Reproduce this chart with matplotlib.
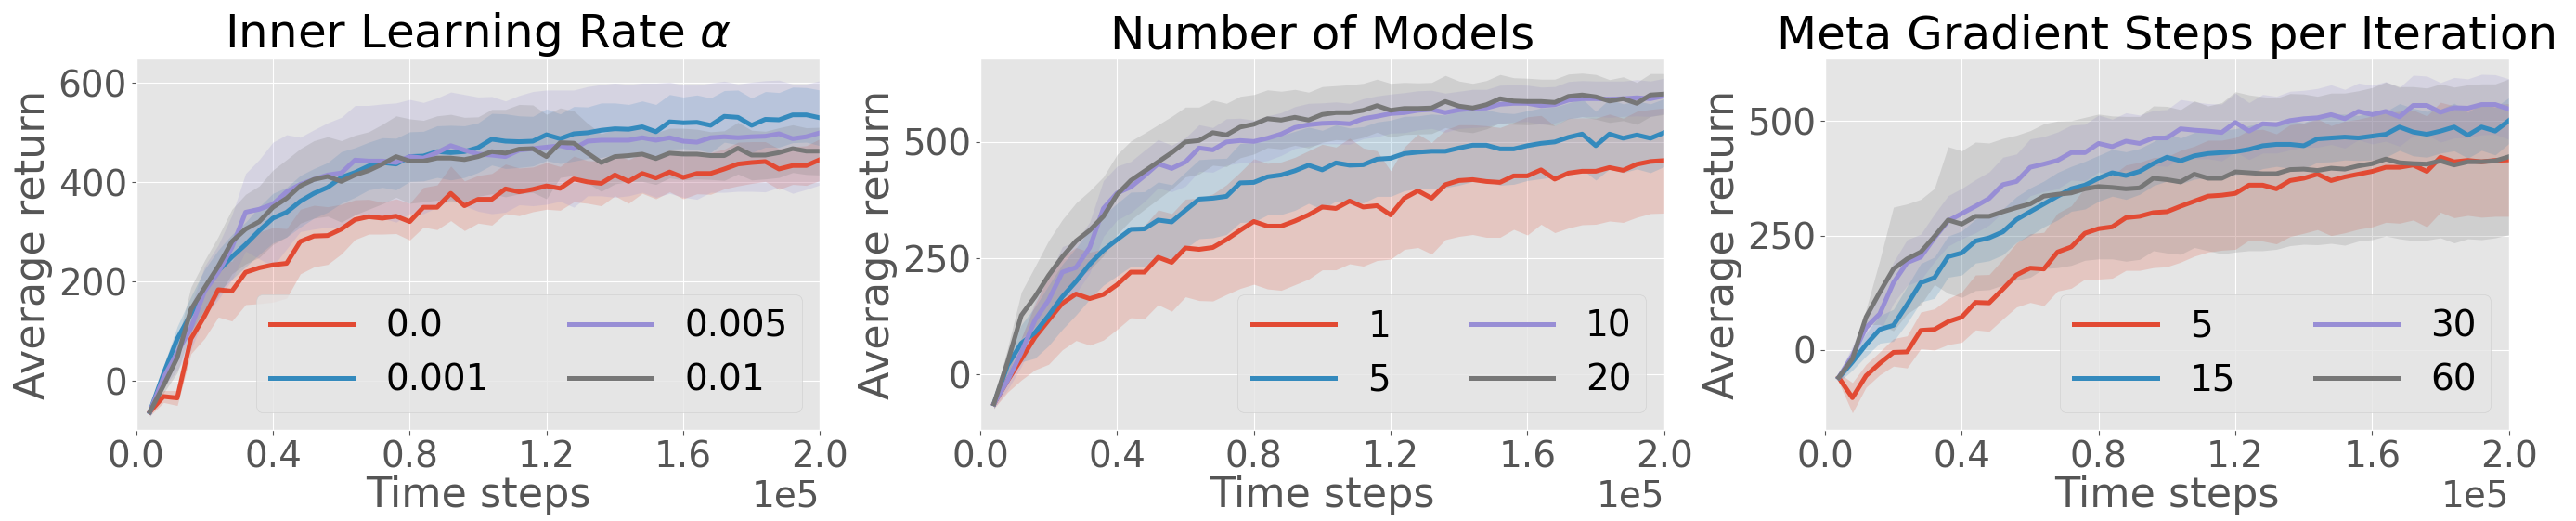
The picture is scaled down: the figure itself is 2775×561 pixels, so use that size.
import numpy as np
import matplotlib
matplotlib.use("Agg")
import matplotlib.pyplot as plt

# evaluation points (every 4000 steps)
steps = np.arange(4000, 200001, 4000)

# ---- panel 1: inner learning rate ----
lr_labels = ["0.0", "0.001", "0.005", "0.01"]
lr_mean_00 = [-62, -31, -34, 85, 131, 184, 181, 219, 228, 234, 237, 281, 292, 293, 306, 325, 331, 328, 332, 321,
              350, 350, 378, 353, 366, 366, 387, 381, 386, 393, 388, 407, 401, 398, 415, 402, 418, 409, 421, 410,
              418, 418, 427, 437, 440, 442, 427, 434, 434, 446]
lr_mean_0001 = [-62, 15, 85, 135, 185, 222, 250, 275, 303, 328, 340, 362, 378, 390, 410, 420, 433, 440, 437, 452,
                453, 462, 460, 462, 470, 487, 483, 482, 483, 496, 488, 498, 500, 505, 508, 507, 512, 502, 522, 520,
                521, 515, 533, 531, 515, 527, 526, 536, 536, 530]
lr_mean_0005 = [-62, 7, 57, 107, 181, 219, 269, 340, 346, 356, 381, 396, 406, 415, 419, 445, 443, 443, 440, 452,
                449, 460, 474, 465, 457, 455, 452, 465, 468, 471, 474, 468, 483, 485, 485, 485, 490, 485, 490, 483,
                481, 490, 492, 490, 492, 493, 498, 488, 492, 500]
lr_mean_001 = [-62, -9, 47, 144, 188, 231, 281, 306, 321, 350, 368, 393, 406, 412, 402, 415, 424, 437, 452, 443,
               443, 449, 449, 446, 452, 462, 459, 467, 468, 452, 480, 479, 459, 440, 452, 454, 457, 448, 459, 457,
               457, 454, 454, 469, 455, 455, 460, 468, 463, 463]
lr_std_00 = [8, 12, 15, 30, 45, 55, 60, 65, 72, 75, 70, 65, 62, 58, 50, 40, 35, 32, 35, 37,
             40, 45, 55, 50, 48, 52, 50, 48, 45, 47, 44, 46, 43, 45, 42, 44, 40, 42, 40, 43,
             41, 42, 40, 44, 42, 40, 41, 38, 40, 42]
lr_std_0001 = [8, 15, 25, 35, 40, 42, 45, 45, 48, 50, 50, 52, 50, 50, 52, 50, 48, 50, 52, 50,
               50, 52, 55, 52, 50, 52, 55, 52, 50, 52, 50, 55, 52, 55, 52, 50, 52, 55, 55, 52,
               55, 55, 52, 55, 55, 56, 55, 56, 55, 56]
lr_std_0005 = [10, 20, 35, 45, 50, 55, 65, 78, 100, 125, 115, 95, 100, 105, 112, 110, 112, 115, 120, 115,
               112, 110, 108, 112, 115, 118, 112, 110, 115, 115, 112, 118, 110, 112, 115, 112, 110, 115, 112, 113,
               115, 110, 112, 108, 110, 112, 108, 110, 106, 105]
lr_std_001 = [8, 15, 30, 45, 55, 60, 65, 70, 72, 75, 78, 75, 78, 80, 82, 80, 78, 80, 82, 85,
              82, 85, 88, 85, 80, 85, 88, 90, 88, 85, 70, 65, 60, 58, 55, 52, 55, 52, 50, 52,
              50, 48, 50, 52, 50, 48, 50, 48, 47, 48]

# ---- panel 2: number of models ----
nm_labels = ["1", "5", "10", "20"]
nm_mean_1 = [-63, -13, 33, 80, 117, 153, 173, 163, 172, 193, 220, 220, 252, 241, 272, 269, 273, 290, 310, 329,
             319, 319, 330, 343, 360, 357, 373, 360, 363, 343, 379, 395, 379, 408, 417, 419, 415, 413, 427, 427,
             440, 420, 433, 437, 437, 445, 439, 452, 458, 460]
nm_mean_5 = [-63, 20, 67, 90, 127, 167, 200, 237, 267, 290, 312, 313, 332, 328, 353, 377, 379, 383, 412, 413,
             425, 429, 438, 450, 440, 455, 450, 451, 463, 465, 475, 478, 480, 480, 487, 493, 493, 485, 485, 492,
             497, 500, 510, 517, 492, 517, 508, 515, 508, 520]
nm_mean_10 = [-63, -13, 47, 117, 160, 220, 230, 273, 357, 390, 403, 427, 453, 443, 457, 487, 483, 500, 503, 501,
              508, 517, 531, 537, 540, 541, 539, 550, 555, 561, 563, 568, 570, 563, 569, 572, 573, 581, 583, 583,
              578, 580, 590, 593, 593, 592, 593, 595, 593, 599]
nm_mean_20 = [-63, 27, 127, 167, 213, 253, 287, 310, 340, 387, 417, 437, 457, 477, 500, 503, 520, 515, 532, 538,
              550, 547, 553, 547, 559, 563, 563, 568, 578, 568, 572, 572, 573, 587, 577, 573, 580, 593, 588, 587,
              587, 585, 598, 601, 597, 588, 593, 583, 601, 603]
nm_std_1 = [10, 25, 45, 70, 95, 100, 100, 100, 98, 96, 98, 100, 102, 105, 105, 110, 115, 118, 125, 135,
            135, 138, 137, 138, 135, 132, 135, 127, 118, 95, 110, 122, 120, 118, 120, 118, 120, 118, 115, 127,
            117, 115, 118, 115, 114, 115, 112, 114, 112, 113]
nm_std_5 = [10, 25, 40, 55, 65, 70, 72, 75, 75, 78, 80, 80, 82, 80, 82, 85, 85, 82, 85, 85,
            82, 85, 85, 82, 85, 82, 80, 82, 80, 82, 80, 78, 80, 78, 80, 78, 76, 78, 76, 75,
            76, 75, 74, 76, 74, 75, 74, 73, 74, 73]
nm_std_10 = [10, 20, 30, 40, 50, 55, 55, 55, 60, 58, 55, 55, 52, 50, 52, 50, 48, 50, 48, 46,
             48, 46, 45, 46, 44, 45, 44, 43, 44, 42, 43, 42, 41, 42, 40, 41, 40, 41, 40, 39,
             40, 39, 40, 39, 38, 39, 38, 39, 38, 38]
nm_std_20 = [10, 30, 50, 65, 75, 80, 82, 85, 85, 86, 85, 82, 80, 78, 75, 72, 70, 68, 66, 64,
             62, 62, 60, 60, 60, 58, 60, 58, 57, 58, 56, 55, 55, 56, 54, 53, 52, 52, 50, 50,
             48, 50, 48, 47, 48, 46, 47, 45, 46, 44]

# ---- panel 3: meta gradient steps per iteration ----
ms_labels = ["5", "15", "30", "60"]
ms_mean_5 = [-60, -104, -56, -29, -5, -4, 43, 45, 62, 72, 104, 103, 133, 164, 179, 177, 214, 225, 255, 265,
             269, 289, 292, 300, 302, 314, 325, 336, 338, 342, 360, 360, 352, 370, 375, 384, 370, 378, 384, 390,
             399, 399, 404, 390, 421, 411, 414, 411, 414, 415]
ms_mean_15 = [-60, -26, 12, 45, 54, 99, 147, 158, 204, 212, 238, 245, 258, 285, 302, 319, 336, 352, 360, 375,
              387, 381, 390, 407, 421, 413, 424, 429, 431, 433, 438, 446, 449, 449, 446, 461, 463, 465, 463, 467,
              471, 487, 476, 471, 478, 487, 469, 487, 478, 501]
ms_mean_30 = [-60, -12, 49, 79, 147, 191, 203, 245, 282, 298, 314, 331, 361, 368, 399, 406, 414, 431, 431, 451,
              444, 456, 451, 463, 463, 483, 480, 478, 475, 497, 478, 494, 492, 501, 505, 507, 514, 505, 521, 514,
              521, 509, 534, 534, 519, 529, 528, 536, 536, 526]
ms_mean_60 = [-60, -19, 72, 126, 177, 199, 214, 248, 284, 275, 292, 292, 302, 311, 319, 336, 340, 343, 352, 357,
              355, 352, 354, 375, 372, 367, 384, 375, 375, 389, 387, 385, 385, 394, 395, 392, 397, 395, 402, 407,
              417, 409, 407, 406, 413, 404, 411, 411, 413, 422]
ms_std_5 = [10, 33, 25, 25, 30, 35, 40, 45, 50, 55, 60, 62, 65, 70, 75, 80, 85, 90, 100, 110,
            112, 115, 118, 120, 120, 122, 120, 122, 120, 122, 120, 122, 120, 122, 120, 121, 120, 122, 120, 121,
            120, 122, 120, 121, 120, 122, 120, 121, 122, 123]
ms_std_15 = [10, 18, 25, 30, 35, 40, 42, 45, 45, 48, 48, 50, 50, 50, 52, 50, 52, 49, 52, 50,
             51, 52, 50, 48, 52, 50, 51, 52, 49, 50, 52, 50, 48, 52, 50, 51, 52, 50, 49, 52,
             50, 51, 52, 50, 48, 52, 50, 51, 52, 50]
ms_std_30 = [10, 20, 30, 40, 45, 50, 50, 52, 55, 55, 58, 58, 60, 60, 62, 60, 62, 60, 62, 62,
             60, 62, 62, 60, 62, 64, 62, 60, 62, 64, 62, 64, 62, 64, 62, 64, 65, 64, 62, 64,
             65, 64, 66, 64, 65, 66, 64, 66, 65, 66]
ms_std_60 = [8, 12, 17, 70, 135, 120, 115, 105, 160, 160, 162, 160, 160, 158, 160, 158, 160, 158, 156, 158,
             156, 158, 156, 158, 160, 158, 160, 158, 165, 175, 170, 168, 165, 166, 164, 162, 164, 166, 164, 166,
             168, 166, 168, 166, 168, 170, 168, 170, 168, 170]

colors = ["#E24A33", "#348ABD", "#988ED5", "#777777"]

plt.style.use("ggplot")
plt.rcParams["font.family"] = ["DejaVu Sans"]
plt.rcParams["font.size"] = 28

fig = plt.figure(figsize=(27.75, 5.61), dpi=100)

panels = [
    ("Inner Learning Rate $\\alpha$", lr_labels,
     [lr_mean_00, lr_mean_0001, lr_mean_0005, lr_mean_001],
     [lr_std_00, lr_std_0001, lr_std_0005, lr_std_001],
     (-99, 650), [0, 200, 400, 600]),
    ("Number of Models", nm_labels,
     [nm_mean_1, nm_mean_5, nm_mean_10, nm_mean_20],
     [nm_std_1, nm_std_5, nm_std_10, nm_std_20],
     (-120, 680), [0, 250, 500]),
    ("Meta Gradient Steps per Iteration", ms_labels,
     [ms_mean_5, ms_mean_15, ms_mean_30, ms_mean_60],
     [ms_std_5, ms_std_15, ms_std_30, ms_std_60],
     (-175, 637), [0, 250, 500]),
]

lefts = [0.05286, 0.38054, 0.70847]
for left, (title, labels, means, stds, ylim, yticks) in zip(lefts, panels):
    ax = fig.add_axes([left, 0.17415, 0.26548, 0.71408])
    for lab, m, s, c in zip(labels, means, stds, colors):
        m = np.array(m, dtype=float)
        s = np.array(s, dtype=float)
        ax.fill_between(steps, m - s, m + s, color=c, alpha=0.2, linewidth=0)
        ax.plot(steps, m, color=c, lw=3.6, label=lab)
    ax.set_xlim(0, 200000)
    ax.set_ylim(*ylim)
    ax.set_xticks(np.arange(0, 200001, 40000))
    ax.set_yticks(yticks)
    ax.ticklabel_format(axis="x", style="sci", scilimits=(0, 0))
    ax.set_title(title, color="black", fontsize=36)
    ax.set_xlabel("Time steps", fontsize=32, labelpad=1)
    ax.set_ylabel("Average return", fontsize=32, labelpad=4)
    ax.legend(loc="lower right", ncol=2, handlelength=2.3,
              handletextpad=0.9, columnspacing=2.2)

fig.savefig("out.png", dpi=100)
